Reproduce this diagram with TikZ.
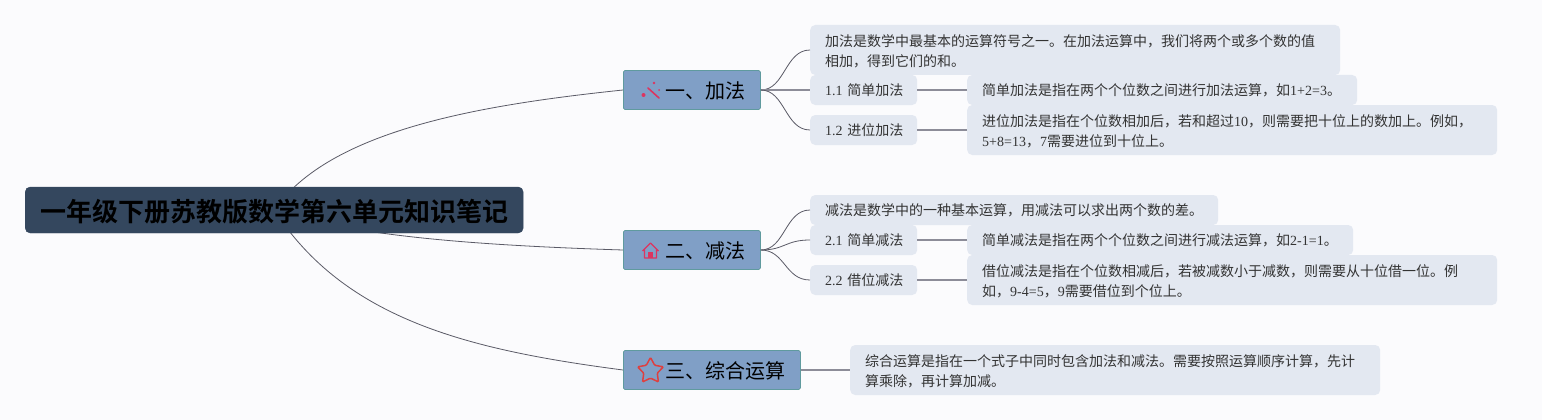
\documentclass[tikz,border=0pt]{standalone}
\usepackage{fontspec}
\setmainfont[BoldFont={Noto Sans CJK SC Bold}]{Noto Sans CJK SC}
\newfontfamily\latinfont{Liberation Serif}
\newcommand{\lat}[1]{{\latinfont #1}}
\newcommand{\dou}{\char"FF0C\relax}
\usetikzlibrary{shapes.geometric,backgrounds}
\definecolor{pagebg}{HTML}{FBFBFD}
\definecolor{rootfill}{HTML}{34475E}
\definecolor{branchfill}{HTML}{809FC6}
\definecolor{branchline}{HTML}{5F9A9E}
\definecolor{leaffill}{HTML}{E3E8F1}
\definecolor{leaftext}{HTML}{333333}
\definecolor{curveline}{HTML}{5A5A66}
\definecolor{flatline}{HTML}{8C8C98}
\definecolor{iconred}{HTML}{DC3560}
\definecolor{starred}{HTML}{DE3F3F}
\tikzset{
  rootbox/.style={anchor=west,fill=rootfill,draw=rootfill,rounded corners=5pt,minimum width=498pt,minimum height=46pt,inner sep=0pt,text depth=-1pt,font=\fontsize{26}{30}\selectfont\bfseries,text=black},
  branch/.style={anchor=west,fill=branchfill,draw=branchline,line width=0.8pt,rounded corners=1.5pt,minimum height=39pt,inner ysep=0pt,inner xsep=0pt,text width=#1pt,text depth=-4pt,align=left,font=\fontsize{20}{24}\selectfont,text=black},
  leaf/.style={anchor=west,fill=leaffill,rounded corners=5pt,inner ysep=0pt,inner xsep=15pt,text width=#1pt-30pt,align=left,font=\fontsize{14}{20}\selectfont,text=leaftext},
  oneline/.style={minimum height=30pt,text depth=-10pt},
  twoline/.style={minimum height=50pt,text depth=18pt},
  curve/.style={draw=curveline,line width=0.8pt},
  flat/.style={draw=flatline,line width=1.2pt}
}
\begin{document}
\begin{tikzpicture}[x=1pt,y=-1pt]
  \useasboundingbox (0,0) rectangle (1542,420);

  \node (root) [rootbox] at (25,210) {一年级下册苏教版数学第六单元知识笔记};

  \node (add) [branch=137] at (623,90) {\hspace*{42pt}一、加法};
  \node (sub) [branch=137] at (623,250) {\hspace*{42pt}二、减法};
  \node (mix) [branch=177] at (623,370) {\hspace*{42pt}三、综合运算};

  \node (addnote) [leaf=530,twoline] at (810,50) {加法是数学中最基本的运算符号之一。在加法运算中\dou 我们将两个或多个数的值\\相加\dou 得到它们的和。};
  \node (add1) [leaf=107,oneline] at (810,90) {\mbox{\lat{1.1 }简单加法}};
  \node (add2) [leaf=107,oneline] at (810,130) {\mbox{\lat{1.2 }进位加法}};
  \node (add1note) [leaf=390,oneline] at (967,90) {简单加法是指在两个个位数之间进行加法运算\dou 如\lat{1+2=3}。};
  \node (add2note) [leaf=530,twoline] at (967,130) {进位加法是指在个位数相加后\dou 若和超过\lat{10}\dou 则需要把十位上的数加上。例如\dou\\\lat{5+8=13}\dou\lat{7}需要进位到十位上。};

  \node (subnote) [leaf=408,oneline] at (810,210) {减法是数学中的一种基本运算\dou 用减法可以求出两个数的差。};
  \node (sub1) [leaf=107,oneline] at (810,240) {\mbox{\lat{2.1 }简单减法}};
  \node (sub2) [leaf=107,oneline] at (810,280) {\mbox{\lat{2.2 }借位减法}};
  \node (sub1note) [leaf=386,oneline] at (967,240) {简单减法是指在两个个位数之间进行减法运算\dou 如\lat{2-1=1}。};
  \node (sub2note) [leaf=530,twoline] at (967,280) {借位减法是指在个位数相减后\dou 若被减数小于减数\dou 则需要从十位借一位。例\\如\dou\lat{9-4=5}\dou\lat{9}需要借位到个位上。};

  \node (mixnote) [leaf=530,twoline] at (850,370) {综合运算是指在一个式子中同时包含加法和减法。需要按照运算顺序计算\dou 先计\\算乘除\dou 再计算加减。};

  \begin{scope}[on background layer]
    \fill [pagebg] (0,0) rectangle (1542,420);
    \draw [curve] (root.center) .. controls (330,130) and (480,105) .. (add.west);
    \draw [curve] (root.center) .. controls (350,235) and (465,245) .. (sub.west);
    \draw [curve] (root.center) .. controls (345,320) and (470,350) .. (mix.west);
  \end{scope}

  \draw [curve] (add.east) .. controls (785,90) and (785,50) .. (addnote.west);
  \draw [flat]  (add.east) to (add1.west);
  \draw [curve] (add.east) .. controls (785,90) and (785,130) .. (add2.west);
  \draw [flat]  (add1.east) to (add1note.west);
  \draw [flat]  (add2.east) to (add2note.west);

  \draw [curve] (sub.east) .. controls (785,250) and (785,210) .. (subnote.west);
  \draw [curve] (sub.east) .. controls (785,250) and (785,240) .. (sub1.west);
  \draw [curve] (sub.east) .. controls (785,250) and (785,280) .. (sub2.west);
  \draw [flat]  (sub1.east) to (sub1note.west);
  \draw [flat]  (sub2.east) to (sub2note.west);

  \draw [flat]  (mix.east) to (mixnote.west);

  % icons
  \draw [iconred,line width=1.6pt,line cap=round] (648,88) -- (659,98);
  \fill [iconred] (643.5,95) circle (2pt) (654,83) circle (1.4pt) (659,90) circle (1pt);
  \draw [iconred,line width=1.2pt,line join=round] (642.5,251) -- (650.5,243) -- (658.5,251) (644.5,249) -- (644.5,258) -- (656.5,258) -- (656.5,249);
  \fill [iconred] (648,258) rectangle (653,252);
  \node (star) [star,star points=5,star point ratio=1.9,draw=starred,line width=1.5pt,rounded corners=1pt,minimum size=27pt,inner sep=0pt] at (650.5,371) {};
\end{tikzpicture}
\end{document}
